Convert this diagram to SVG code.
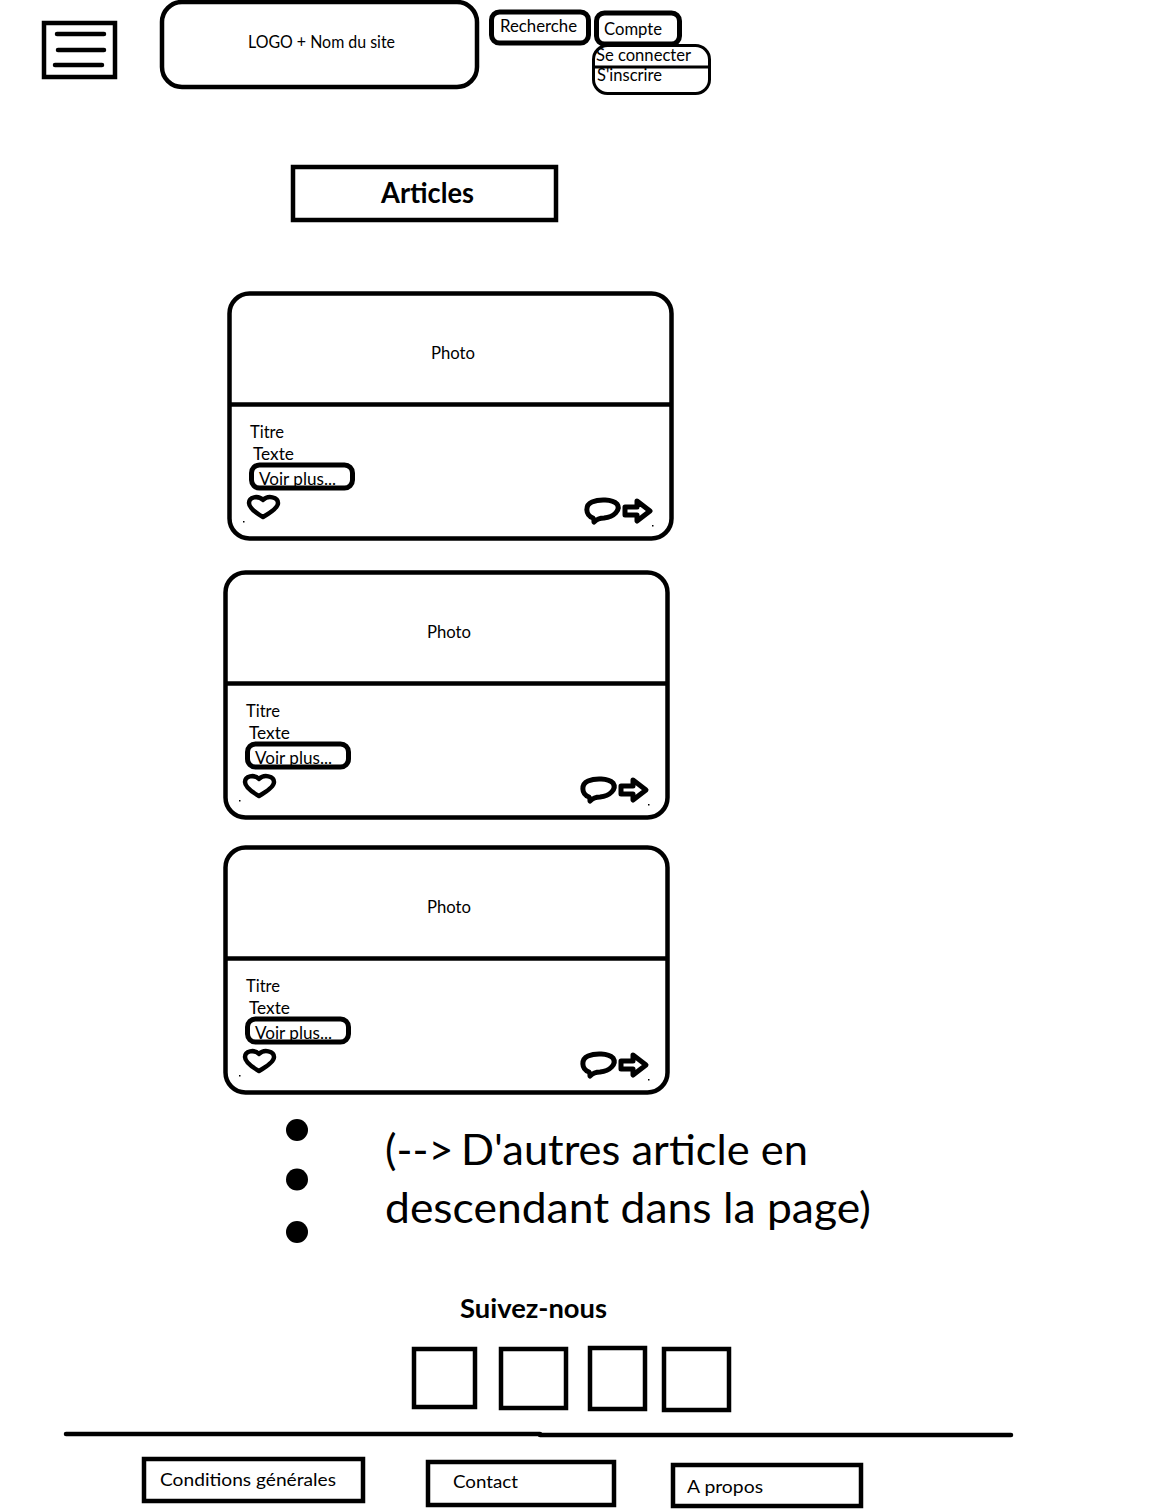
<svg xmlns="http://www.w3.org/2000/svg" width="1149" height="1510" viewBox="0 0 1149 1510">
<style>
text{font-family:Lato,"Open Sans","Liberation Sans",sans-serif;fill:#000;font-size:17px}
.box{fill:#fff;stroke:#000;stroke-width:4.500}
.thin{fill:#fff;stroke:#000;stroke-width:3}
.btn{fill:none;stroke:#000;stroke-width:5}
.ln{fill:none;stroke:#000;stroke-width:4.500;stroke-linecap:round;stroke-linejoin:round}
.icon{fill:none;stroke:#000;stroke-width:5;stroke-linejoin:round}
.bold{font-weight:700}
.big{font-size:43px}
.dot{fill:#000}
</style>
<defs>
<g id="icons">
<path class="ln" d="M263 517C256 513 249 508 249 503C249 497 258 495 263 500C268 495 278 497 278 503C278 508 270 513 263 517Z"/>
<path class="icon" d="M593 518C585 515 585 505 592 502C599 499 612 499 617 504C621 510 614 517 604 518C600 518 597 519 594 522C594 520 594 519 593 518Z"/>
<path class="icon" d="M625 507H637V501L650 511L637 521V515H625Z"/>
<rect x="243" y="521" width="1.500" height="1.500" fill="#000"/>
<rect x="652" y="525" width="1.500" height="1.500" fill="#000"/>
</g>
</defs>
<rect width="1149" height="1510" fill="#fff"/>
<g id="menu">
<rect class="box" x="44" y="23" width="71" height="54"/>
<path class="ln" d="M57 34H104M58 50H104M55 65H102"/>
</g>
<g id="logo">
<rect class="box" x="162" y="2" width="315" height="85" rx="20"/>
<text x="248" y="48" textLength="147" lengthAdjust="spacingAndGlyphs">LOGO + Nom du site</text>
</g>
<g id="recherche">
<rect class="btn" x="491.500" y="12" width="97" height="31" rx="8"/>
<text x="500" y="32" textLength="77" lengthAdjust="spacingAndGlyphs">Recherche</text>
</g>
<g id="compte">
<rect class="btn" x="596.500" y="13" width="83" height="31" rx="8"/>
<text x="604" y="35" textLength="58" lengthAdjust="spacingAndGlyphs">Compte</text>
</g>
<g id="compte-menu">
<rect class="thin" x="593.500" y="45.500" width="116" height="48" rx="14"/>
<path d="M594 67H709" stroke="#000" stroke-width="3" fill="none"/>
<text x="596" y="61" textLength="95" lengthAdjust="spacingAndGlyphs">Se connecter</text>
<text x="597" y="81" textLength="65" lengthAdjust="spacingAndGlyphs">S'inscrire</text>
</g>
<g id="articles">
<rect class="box" x="293" y="167" width="263" height="53"/>
<text class="bold" x="381" y="203" style="font-size:28px" textLength="93" lengthAdjust="spacingAndGlyphs">Articles</text>
</g>
<g id="card-1">
<rect class="box" x="229.500" y="293.500" width="442" height="245" rx="20"/>
<path d="M230 404.500H671" stroke="#000" stroke-width="4.500"/>
<text x="431" y="359" textLength="44" lengthAdjust="spacingAndGlyphs">Photo</text>
<text x="250" y="438" textLength="34" lengthAdjust="spacingAndGlyphs">Titre</text>
<text x="253" y="460" textLength="41" lengthAdjust="spacingAndGlyphs">Texte</text>
<rect class="btn" x="251.500" y="465" width="101" height="23" rx="8"/>
<text x="259" y="485" textLength="77" lengthAdjust="spacingAndGlyphs">Voir plus...</text>
<use href="#icons"/>
</g>
<g id="card-2" transform="translate(-4 279)">
<rect class="box" x="229.500" y="293.500" width="442" height="245" rx="20"/>
<path d="M230 404.500H671" stroke="#000" stroke-width="4.500"/>
<text x="431" y="359" textLength="44" lengthAdjust="spacingAndGlyphs">Photo</text>
<text x="250" y="438" textLength="34" lengthAdjust="spacingAndGlyphs">Titre</text>
<text x="253" y="460" textLength="41" lengthAdjust="spacingAndGlyphs">Texte</text>
<rect class="btn" x="251.500" y="465" width="101" height="23" rx="8"/>
<text x="259" y="485" textLength="77" lengthAdjust="spacingAndGlyphs">Voir plus...</text>
<use href="#icons"/>
</g>
<g id="card-3" transform="translate(-4 554)">
<rect class="box" x="229.500" y="293.500" width="442" height="245" rx="20"/>
<path d="M230 404.500H671" stroke="#000" stroke-width="4.500"/>
<text x="431" y="359" textLength="44" lengthAdjust="spacingAndGlyphs">Photo</text>
<text x="250" y="438" textLength="34" lengthAdjust="spacingAndGlyphs">Titre</text>
<text x="253" y="460" textLength="41" lengthAdjust="spacingAndGlyphs">Texte</text>
<rect class="btn" x="251.500" y="465" width="101" height="23" rx="8"/>
<text x="259" y="485" textLength="77" lengthAdjust="spacingAndGlyphs">Voir plus...</text>
<use href="#icons"/>
</g>
<g id="more">
<circle class="dot" cx="297" cy="1130" r="11"/>
<circle class="dot" cx="297" cy="1179.500" r="11"/>
<circle class="dot" cx="297" cy="1232" r="11"/>
<text class="big" x="385" y="1165">(--&gt;<tspan x="461" textLength="347" lengthAdjust="spacingAndGlyphs">D'autres article en</tspan></text>
<text class="big" x="385" y="1223" textLength="486" lengthAdjust="spacingAndGlyphs">descendant dans la page)</text>
</g>
<g id="suivez">
<text class="bold" x="460" y="1318" style="font-size:26px" textLength="147" lengthAdjust="spacingAndGlyphs">Suivez-nous</text>
<rect class="box" x="414" y="1349" width="61" height="58"/>
<rect class="box" x="501" y="1349" width="65" height="59"/>
<rect class="box" x="590" y="1348" width="55" height="61"/>
<rect class="box" x="664" y="1349" width="65" height="61"/>
</g>
<g id="connectors">
<path class="ln" d="M66 1434H540"/>
<path class="ln" d="M540 1435H1011"/>
</g>
<g id="conditions">
<rect class="box" x="144" y="1459" width="219" height="42"/>
<text x="160" y="1486" textLength="176" lengthAdjust="spacingAndGlyphs">Conditions générales</text>
</g>
<g id="contact">
<rect class="box" x="428" y="1462" width="186" height="43"/>
<text x="453" y="1488" textLength="65" lengthAdjust="spacingAndGlyphs">Contact</text>
</g>
<g id="apropos">
<rect class="box" x="673" y="1465" width="188" height="41"/>
<text x="687" y="1493" textLength="76" lengthAdjust="spacingAndGlyphs">A propos</text>
</g>
</svg>
